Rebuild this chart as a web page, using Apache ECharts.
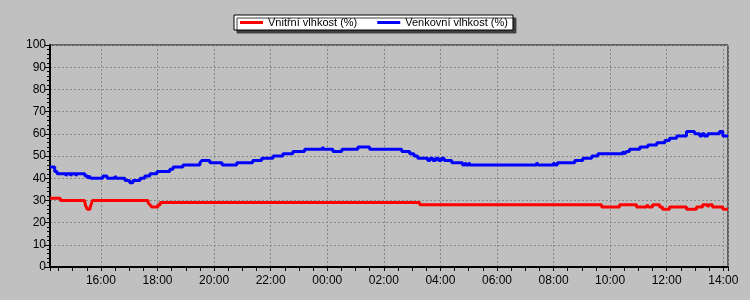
<!DOCTYPE html>
<html>
<head>
<meta charset="utf-8">
<script src="https://cdn.jsdelivr.net/npm/echarts@6/dist/echarts.min.js"></script>
<style>
html,body{margin:0;padding:0;background:#c0c0c0;}
#chart{width:750px;height:300px;}
</style>
</head>
<body>
<div id="chart"></div>
<script>
const seriesNames = ['Vnitřní vlhkost (%)', 'Venkovní vlhkost (%)'];
const rangeStart = '2024-05-01 14:12';
const rangeEnd = '2024-05-02 14:10';
const yTicks = [0, 100, 10];

const innerHumidity = [
  ['2024-05-01 14:12', 31], ['2024-05-01 14:34', 30], ['2024-05-01 15:25', 30],
  ['2024-05-01 15:27', 28], ['2024-05-01 15:29', 27], ['2024-05-01 15:31', 26],
  ['2024-05-01 15:37', 27], ['2024-05-01 15:39', 28], ['2024-05-01 15:42', 30],
  ['2024-05-01 17:40', 29], ['2024-05-01 17:44', 28], ['2024-05-01 17:48', 27],
  ['2024-05-01 18:01', 28], ['2024-05-01 18:06', 29], ['2024-05-02 03:16', 28],
  ['2024-05-02 09:42', 27], ['2024-05-02 10:20', 28], ['2024-05-02 10:56', 27],
  ['2024-05-02 11:18', 28], ['2024-05-02 11:22', 27], ['2024-05-02 11:30', 28],
  ['2024-05-02 11:45', 27], ['2024-05-02 11:51', 26], ['2024-05-02 12:06', 27],
  ['2024-05-02 12:42', 26], ['2024-05-02 13:03', 27], ['2024-05-02 13:16', 28],
  ['2024-05-02 13:27', 27], ['2024-05-02 13:30', 28], ['2024-05-02 13:37', 27],
  ['2024-05-02 13:59', 26], ['2024-05-02 14:10', 26]
];

const outerHumidity = [
  ['2024-05-01 14:12', 45], ['2024-05-01 14:22', 43], ['2024-05-01 14:27', 42],
  ['2024-05-01 14:46', 41], ['2024-05-01 14:48', 42], ['2024-05-01 14:56', 41],
  ['2024-05-01 14:58', 42], ['2024-05-01 15:07', 41], ['2024-05-01 15:09', 42],
  ['2024-05-01 15:26', 41], ['2024-05-01 15:32', 40], ['2024-05-01 15:36', 41],
  ['2024-05-01 15:38', 40], ['2024-05-01 16:04', 41], ['2024-05-01 16:13', 40],
  ['2024-05-01 16:30', 41], ['2024-05-01 16:33', 40], ['2024-05-01 16:51', 39],
  ['2024-05-01 17:01', 38], ['2024-05-01 17:08', 39], ['2024-05-01 17:23', 40],
  ['2024-05-01 17:33', 41], ['2024-05-01 17:44', 42], ['2024-05-01 17:59', 43],
  ['2024-05-01 18:26', 44], ['2024-05-01 18:33', 45], ['2024-05-01 18:54', 46],
  ['2024-05-01 19:30', 47], ['2024-05-01 19:34', 48], ['2024-05-01 19:51', 47],
  ['2024-05-01 20:17', 46], ['2024-05-01 20:48', 47], ['2024-05-01 21:22', 48],
  ['2024-05-01 21:41', 49], ['2024-05-01 22:05', 50], ['2024-05-01 22:26', 51],
  ['2024-05-01 22:47', 52], ['2024-05-01 23:12', 53], ['2024-05-01 23:50', 54],
  ['2024-05-01 23:53', 53], ['2024-05-02 00:12', 52], ['2024-05-02 00:31', 53],
  ['2024-05-02 01:05', 54], ['2024-05-02 01:30', 53], ['2024-05-02 02:38', 52],
  ['2024-05-02 02:55', 51], ['2024-05-02 03:04', 50], ['2024-05-02 03:12', 49],
  ['2024-05-02 03:33', 48], ['2024-05-02 03:38', 49], ['2024-05-02 03:44', 48],
  ['2024-05-02 03:50', 49], ['2024-05-02 03:56', 48], ['2024-05-02 04:02', 49],
  ['2024-05-02 04:08', 48], ['2024-05-02 04:24', 47], ['2024-05-02 04:47', 46],
  ['2024-05-02 04:52', 47], ['2024-05-02 04:55', 46], ['2024-05-02 05:00', 47],
  ['2024-05-02 05:03', 46], ['2024-05-02 07:24', 47], ['2024-05-02 07:27', 46],
  ['2024-05-02 08:00', 47], ['2024-05-02 08:03', 46], ['2024-05-02 08:08', 47],
  ['2024-05-02 08:45', 48], ['2024-05-02 09:02', 49], ['2024-05-02 09:21', 50],
  ['2024-05-02 09:34', 51], ['2024-05-02 10:27', 52], ['2024-05-02 10:31', 51],
  ['2024-05-02 10:35', 52], ['2024-05-02 10:41', 53], ['2024-05-02 11:03', 54],
  ['2024-05-02 11:20', 55], ['2024-05-02 11:39', 56], ['2024-05-02 11:56', 57],
  ['2024-05-02 12:06', 58], ['2024-05-02 12:21', 59], ['2024-05-02 12:42', 61],
  ['2024-05-02 12:59', 60], ['2024-05-02 13:10', 59], ['2024-05-02 13:15', 60],
  ['2024-05-02 13:20', 59], ['2024-05-02 13:27', 60], ['2024-05-02 13:52', 61],
  ['2024-05-02 13:59', 59], ['2024-05-02 14:10', 59]
];

function toTs(s) {
  const [d, t] = s.split(' ');
  const [Y, M, D] = d.split('-').map(Number);
  const [h, m] = t.split(':').map(Number);
  return new Date(Y, M - 1, D, h, m).getTime();
}
const toSeries = arr => arr.map(p => [toTs(p[0]), p[1]]);

const font = 'Liberation Sans, Arial, sans-serif';
const chart = echarts.init(document.getElementById('chart'), null, {renderer: 'canvas'});
const HOUR = 3600 * 1000;

chart.setOption({
  animation: false,
  backgroundColor: '#c0c0c0',
  textStyle: {fontFamily: font, color: '#000'},
  legend: {
    left: 234, top: 15,
    padding: [2, 5, 2, 6],
    itemGap: 20, itemWidth: 23, itemHeight: 3,
    icon: 'rect',
    backgroundColor: '#ffffff',
    borderColor: '#000000', borderWidth: 1, borderRadius: 0,
    shadowColor: '#404040', shadowBlur: 0, shadowOffsetX: 3, shadowOffsetY: 3,
    textStyle: {fontFamily: font, fontSize: 11, color: '#000', padding: [0, 0, 0, 0]},
    data: seriesNames
  },
  grid: {
    left: 50, right: 22, top: 45, bottom: 33,
    show: true, borderColor: '#000', borderWidth: 1, backgroundColor: 'transparent',
    containLabel: false
  },
  xAxis: [{
    type: 'time',
    min: toTs(rangeStart), max: toTs(rangeEnd),
    minInterval: 2.5 * HOUR, maxInterval: 2.5 * HOUR,
    axisLine: {show: true, lineStyle: {color: '#000', width: 2}},
    axisTick: {show: false},
    axisLabel: {
      formatter: '{HH}:{mm}', fontSize: 12, color: '#000', fontFamily: font,
      margin: 8, showMinLabel: false, showMaxLabel: false, hideOverlap: false
    },
    splitLine: {show: true, lineStyle: {color: '#8a8a8a', type: [2, 2], width: 1}}
  }, {
    type: 'time',
    position: 'bottom',
    min: toTs(rangeStart), max: toTs(rangeEnd),
    minInterval: 0.6 * HOUR, maxInterval: 0.6 * HOUR,
    axisLine: {show: false},
    axisTick: {show: true, length: 4, lineStyle: {color: '#000', width: 1}},
    axisLabel: {show: false},
    splitLine: {show: false}
  }],
  yAxis: {
    type: 'value',
    min: yTicks[0], max: yTicks[1], interval: yTicks[2],
    axisLine: {show: true, lineStyle: {color: '#000', width: 2}},
    axisTick: {show: true, length: 5, lineStyle: {color: '#000', width: 1}},
    minorTick: {show: true, splitNumber: 5, length: 3, lineStyle: {color: '#000', width: 1}},
    axisLabel: {fontSize: 12, color: '#000', fontFamily: font, margin: 4},
    splitLine: {show: true, lineStyle: {color: '#8a8a8a', type: [2, 2], width: 1}}
  },
  series: [{
    name: seriesNames[0], type: 'line', step: 'end', showSymbol: false,
    xAxisIndex: 0,
    color: '#ff0000', lineStyle: {color: '#ff0000', width: 3},
    data: toSeries(innerHumidity)
  }, {
    name: seriesNames[1], type: 'line', step: 'end', showSymbol: false,
    xAxisIndex: 0,
    color: '#0000ff', lineStyle: {color: '#0000ff', width: 3},
    data: toSeries(outerHumidity)
  }]
});
</script>
</body>
</html>
